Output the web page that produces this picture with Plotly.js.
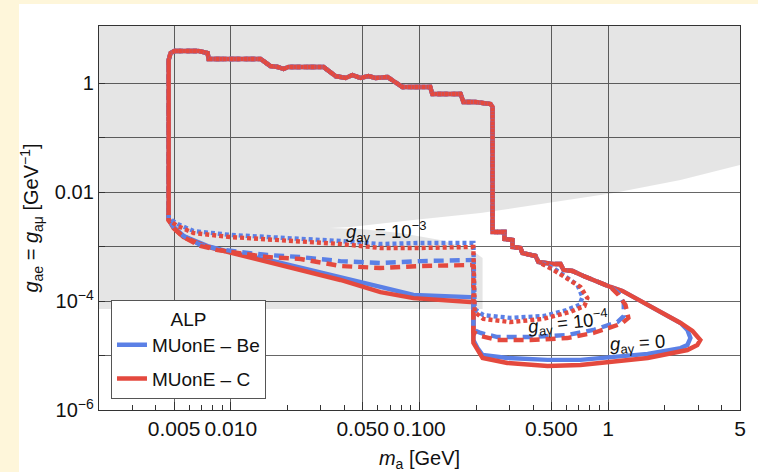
<!DOCTYPE html>
<html>
<head>
<meta charset="utf-8">
<script src="https://cdn.plot.ly/plotly-3.0.1.min.js"></script>
<style>html,body{margin:0;padding:0;background:#FEF6DA;}#plot{width:758px;height:472px;}</style>
</head>
<body>
<div id="plot"></div>
<script>
// ---- data ----
// shared upper boundary of all ALP contours (left edge, top plateau, vertical drop)
const topX = [0.00468,0.00468,0.00479,0.00503,0.00674,0.00753,0.00762,0.01437,0.0162,0.0177,0.0190,0.0202,0.0310,0.0337,0.0359,0.0381,0.0406,0.0441,0.0487,0.0537,0.0585,0.0677,0.0746,0.0812,0.114,0.117,0.165,0.171,0.198,0.238,0.244];
const topY = [4.3e-3,2.64,3.55,3.87,3.87,3.55,2.76,2.76,2.05,1.97,1.81,1.97,1.97,1.59,1.34,1.29,1.235,1.40,1.235,1.34,1.235,1.29,1.04,0.845,0.845,0.628,0.628,0.448,0.448,0.412,0.363];
// shared staircase (upper right edge)
const stairX = [0.244,0.282,0.282,0.311,0.311,0.343,0.351,0.412,0.427,0.513,0.559,0.580,0.647,0.740,0.878,1.028,1.19,1.36,1.576,1.82,2.08,2.42,2.80,3.08];
const stairY = [1.85e-3,1.85e-3,1.37e-3,1.32e-3,9.8e-4,9.4e-4,7.6e-4,6.7e-4,5.2e-4,4.78e-4,4.78e-4,3.71e-4,3.55e-4,2.88e-4,2.23e-4,1.81e-4,1.53e-4,1.18e-4,9.2e-5,6.8e-5,5.3e-5,3.95e-5,2.82e-5,1.92e-5];

// g_ay = 0 (solid)
const cSolidX = [2.97,2.63,1.62,0.713,0.477,0.292,0.216,0.203,0.193,0.193,0.186,0.0929,0.0621,0.0381,0.0255,0.01684,0.00995,0.00753,0.00561,0.00497,0.00468,0.00468];
const cSolidY = [1.56e-5,1.26e-5,9.0e-6,6.7e-6,6.4e-6,7.3e-6,9.0e-6,1.26e-5,1.70e-5,9.6e-5,9.6e-5,1.13e-4,1.46e-4,2.43e-4,3.41e-4,4.98e-4,7.6e-4,9.8e-4,1.49e-3,2.18e-3,3.06e-3,4.3e-3];
const beSolidX = [2.63,2.73,2.63,2.42,1.62,0.713,0.477,0.292,0.216,0.203,0.193,0.193,0.186,0.0929,0.0621,0.0381,0.0255,0.01684,0.00995,0.00753,0.00561,0.00497,0.00468,0.00468];
const beSolidY = [2.94e-5,2.09e-5,1.56e-5,1.37e-5,1.07e-5,8.3e-6,8.3e-6,9.0e-6,1.02e-5,1.37e-5,1.92e-5,1.18e-4,1.18e-4,1.29e-4,1.81e-4,2.76e-4,3.87e-4,5.4e-4,7.9e-4,1.02e-3,1.56e-3,2.28e-3,3.2e-3,4.3e-3];
// g_ay = 1e-4 (dashed)
const cDashX = [1.134,1.236,1.28,1.19,1.12,0.836,0.608,0.387,0.259,0.211,0.193,0.193,0.101,0.0621,0.0381,0.0234,0.01564,0.01125,0.00851,0.0069,0.00561,0.00497,0.00468,0.00468];
const cDashY = [1.29e-4,8.5e-5,4.9e-5,3.95e-5,3.63e-5,2.59e-5,2.09e-5,1.92e-5,1.92e-5,2.28e-5,2.70e-5,4.58e-4,4.39e-4,4.03e-4,4.39e-4,5.9e-4,6.4e-4,7.6e-4,8.6e-4,1.02e-3,1.49e-3,2.18e-3,3.06e-3,4.3e-3];
const beDashX = [1.134,1.21,1.21,1.12,0.836,0.608,0.387,0.259,0.211,0.193,0.193,0.101,0.0621,0.0381,0.0234,0.01564,0.01125,0.00851,0.0069,0.00561,0.00497,0.00468,0.00468];
const beDashY = [1.40e-4,9.2e-5,5.3e-5,4.1e-5,2.94e-5,2.38e-5,2.18e-5,2.18e-5,2.59e-5,2.94e-5,5.65e-4,5.4e-4,4.98e-4,5.4e-4,6.4e-4,7.0e-4,7.9e-4,9.0e-4,1.07e-3,1.56e-3,2.28e-3,3.2e-3,4.3e-3];
// g_ay = 1e-3 (dotted)
const cDotX = [0.513,0.608,0.713,0.776,0.749,0.631,0.454,0.303,0.218,0.196,0.193,0.101,0.0621,0.0381,0.01684,0.00995,0.00634,0.00522,0.00468,0.00468];
const cDotY = [3.71e-4,2.53e-4,1.81e-4,1.13e-4,8.1e-5,6.3e-5,4.7e-5,4.1e-5,4.7e-5,6.3e-5,9.8e-4,9.4e-4,9.4e-4,1.11e-3,1.32e-3,1.49e-3,1.77e-3,2.38e-3,3.06e-3,4.3e-3];
const beDotX = [0.513,0.594,0.688,0.731,0.705,0.601,0.454,0.303,0.218,0.196,0.193,0.101,0.0621,0.0381,0.01684,0.00995,0.00634,0.00522,0.00468,0.00468];
const beDotY = [4.03e-4,2.88e-4,1.97e-4,1.18e-4,8.5e-5,6.8e-5,5.3e-5,4.9e-5,5.5e-5,7.1e-5,1.16e-3,1.16e-3,1.11e-3,1.26e-3,1.49e-3,1.63e-3,1.92e-3,2.59e-3,3.33e-3,4.3e-3];

// excluded (grey) region
const greyX = [0.002,5,5,2.42,1.07,0.315,0.211,0.0929,0.0621,0.0431,0.0337,0.0487,0.0793,0.129,0.186,0.216,0.216,0.002];
const greyY = [12,12,0.0313,0.0166,9.6e-3,5.1e-3,4.1e-3,3.06e-3,2.59e-3,2.28e-3,2.18e-3,2.09e-3,1.77e-3,1.32e-3,9.0e-4,6.15e-4,7.1e-5,7.1e-5];

const xTickVals = [0.005,0.01,0.05,0.1,0.5,1,5];
const xTickText = ['0.005','0.010','0.050','0.100','0.500','1','5'];
const xMinorVals = [0.003,0.004,0.006,0.007,0.008,0.009,0.02,0.03,0.04,0.06,0.07,0.08,0.09,0.2,0.3,0.4,0.6,0.7,0.8,0.9,2,3,4];
const yTickVals = [1e-6,1e-5,1e-4,1e-3,1e-2,1e-1,1];
const yTickText = ['10<sup>−6</sup>','','10<sup>−4</sup>','','0.01','','1'];
const seriesNames = ['MUonE – Be','MUonE – C'];
const labels = [
  {text:'<i>g</i><sub>aγ</sub> = 10<sup>−3</sup>', x:0.0668, y:1.92e-3, angle:0},
  {text:'<i>g</i><sub>aγ</sub> = 10<sup>−4</sup>', x:0.616, y:3.95e-5, angle:-6},
  {text:'<i>g</i><sub>aγ</sub> = 0', x:1.43, y:1.63e-5, angle:-3}
];

// ---- build ----
const BLUE = '#5B80E6', RED = '#E4493E';
function contour(nStair, tx, ty){
  return {x: topX.concat(stairX.slice(0,nStair), tx), y: topY.concat(stairY.slice(0,nStair), ty)};
}
const traces = [];
traces.push({x:greyX, y:greyY, mode:'lines', fill:'toself', fillcolor:'rgba(0,0,0,0.10)', line:{width:0}, showlegend:false, hoverinfo:'skip'});
function addCurve(c, color, dash){
  traces.push({x:c.x, y:c.y, mode:'lines', line:{color:color, width:4.4, dash:dash}, showlegend:false, hoverinfo:'skip'});
}
addCurve(contour(22, beSolidX, beSolidY), BLUE, 'solid');
addCurve(contour(24, cSolidX, cSolidY), RED, 'solid');
addCurve(contour(16, beDashX, beDashY), BLUE, '10px,6px');
addCurve(contour(16, cDashX, cDashY), RED, '10px,6px');
addCurve(contour(9, beDotX, beDotY), BLUE, '4px,3px');
addCurve(contour(9, cDotX, cDotY), RED, '4px,3px');
[BLUE, RED].forEach((col,i)=>{
  traces.push({x:[null], y:[null], mode:'lines', name:seriesNames[i], legendgroup:'g'+i, line:{color:col, width:4.5}, showlegend:true});
});

const FONT = 'Liberation Sans, Arial, Helvetica, sans-serif';
const layout = {
  width:758, height:472,
  margin:{l:99, r:18, t:26, b:62},
  paper_bgcolor:'#FEF6DA',
  plot_bgcolor:'#ffffff',
  font:{family:FONT, color:'#111', size:20},
  showlegend:true,
  xaxis:{
    type:'log', range:[Math.log10(0.002), Math.log10(5)],
    tickmode:'array', tickvals:xTickVals, ticktext:xTickText, tickangle:0,
    ticks:'inside', ticklen:8, tickcolor:'#333', tickfont:{size:21},
    showgrid:true, gridcolor:'#666', gridwidth:1,
    minor:{tickmode:'array', tickvals:xMinorVals, ticks:'inside', ticklen:5, tickcolor:'#333', showgrid:false},
    showline:true, linecolor:'#333', linewidth:1.2, mirror:true, zeroline:false,
    title:{text:'<i>m</i><sub>a</sub> [GeV]', font:{size:20}, standoff:12}
  },
  yaxis:{
    type:'log', range:[-6, 1.046],
    tickmode:'array', tickvals:yTickVals, ticktext:yTickText,
    ticks:'inside', ticklen:6, tickcolor:'#333', tickfont:{size:20},
    showgrid:true, gridcolor:'#666', gridwidth:1,
    showline:true, linecolor:'#333', linewidth:1.2, mirror:true, zeroline:false,
    title:{text:'<i>g</i><sub>ae</sub> = <i>g</i><sub>aμ</sub> [GeV<sup>−1</sup>]', font:{size:20}, standoff:10}
  },
  legend:{
    x:0.0187, y:0.286, xanchor:'left', yanchor:'top',
    bgcolor:'#ffffff', bordercolor:'#555', borderwidth:1,
    font:{size:19, family:FONT, color:'#111'},
    title:{text:'ALP', side:'top center', font:{size:19}},
    traceorder:'grouped', tracegroupgap:6, itemwidth:30
  },
  shapes:[{type:'rect', xref:'paper', yref:'paper', x0:-0.1248, x1:1.06, y0:-0.2, y1:1.0573, fillcolor:'#ffffff', line:{width:0}, layer:'below'}],
  annotations: labels.map(a=>({text:a.text, x:Math.log10(a.x), y:Math.log10(a.y), xref:'x', yref:'y', showarrow:false, textangle:a.angle, font:{size:18.5, family:FONT, color:'#111'}}))
};
Plotly.newPlot('plot', traces, layout, {staticPlot:true, displayModeBar:false});
</script>
</body>
</html>
